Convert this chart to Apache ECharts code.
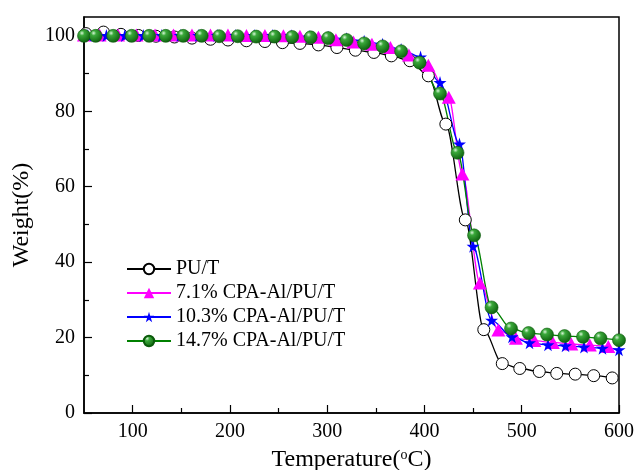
<!DOCTYPE html>
<html>
<head>
<meta charset="utf-8">
<script src="https://cdn.jsdelivr.net/npm/echarts@6/dist/echarts.min.js"></script>
<style>
  html, body { margin: 0; padding: 0; background: #fff; }
  #main { width: 636px; height: 470px; }
</style>
</head>
<body>
<div id="main"></div>
<script>
// 数据：温度与失重
var tempPU = [52, 70, 88, 106, 124, 143, 161, 180, 198, 217, 236, 254, 272, 291, 310, 329, 348, 366, 385, 404, 422, 442, 461, 480, 498, 518, 536, 555, 574, 593]
var weightPU = [100.6, 101.0, 100.4, 100.1, 99.9, 99.7, 99.4, 99.1, 98.9, 98.7, 98.5, 98.2, 98.0, 97.6, 96.9, 96.2, 95.6, 94.7, 93.4, 89.4, 76.6, 51.2, 22.1, 13.1, 11.8, 11.0, 10.5, 10.3, 9.9, 9.3]

var temp71 = [50, 66, 85, 104, 123, 142, 161, 180, 198, 217, 236, 255, 272, 291, 309, 327, 346, 365, 384, 404, 425, 439, 457, 476, 494, 513, 532, 551, 570, 589]
var weight71 = [100.2, 100.2, 100.2, 100.2, 100.2, 100.2, 100.2, 100.2, 100.2, 100.1, 100.1, 100.0, 99.9, 99.6, 99.0, 98.4, 97.8, 96.9, 94.9, 92.2, 83.7, 63.4, 34.5, 22.0, 19.8, 19.2, 18.7, 18.3, 18.0, 17.6]

var temp103 = [54, 73, 92, 111, 130, 149, 168, 187, 206, 225, 244, 263, 282, 301, 320, 338, 357, 376, 396, 416, 436, 450, 469, 490, 508, 527, 545, 564, 583, 600]
var weight103 = [100.1, 100.1, 100.1, 100.1, 100.1, 100.1, 100.1, 100.1, 100.1, 100.1, 100.1, 100.0, 99.8, 99.6, 99.2, 98.6, 97.8, 96.4, 94.4, 87.6, 71.3, 44.2, 24.6, 20.2, 18.6, 18.1, 17.8, 17.5, 17.2, 16.8]

var temp147 = [50, 62, 80, 99, 117, 134, 152, 171, 189, 208, 227, 246, 264, 283, 301, 320, 338, 357, 376, 395, 416, 434, 451, 469, 489, 507, 526, 544, 563, 581, 600]
var weight147 = [100.0, 100.0, 100.0, 100.0, 100.0, 100.0, 100.0, 100.0, 99.9, 99.9, 99.8, 99.8, 99.7, 99.6, 99.4, 98.9, 98.0, 97.2, 95.9, 92.9, 84.7, 69.0, 47.1, 28.0, 22.4, 21.2, 20.8, 20.4, 20.2, 19.8, 19.3]

var seriesNames = ['PU/T', '7.1% CPA-Al/PU/T', '10.3% CPA-Al/PU/T', '14.7% CPA-Al/PU/T']
var xLabelTicks = [100, 200, 300, 400, 500, 600]
var xMinorTicks = [150, 250, 350, 450, 550]
var yLabelTicks = [0, 20, 40, 60, 80, 100]
var yMinorTicks = [10, 30, 50, 70, 90]

function pairs (xs, ys) {
  return xs.map(function (x, i) { return [x, ys[i]] })
}

var FONT = '"Liberation Serif", "Times New Roman", serif'
var starPath = 'path://M50,0 L61,35 L98,35 L68,57 L79,91 L50,70 L21,91 L32,57 L2,35 L39,35 Z'

var chart = echarts.init(document.getElementById('main'))

var baseX = {
  type: 'value',
  min: 50,
  max: 600,
  position: 'bottom',
  splitLine: { show: false }
}
var baseY = {
  type: 'value',
  min: 0,
  max: 105,
  position: 'left',
  splitLine: { show: false }
}

var option = {
  animation: false,
  backgroundColor: '#fff',
  grid: {
    left: 84,
    right: 17,
    top: 17,
    bottom: 57,
    outerBoundsMode: 'none',
    show: true,
    borderColor: '#000',
    borderWidth: 1.5,
    backgroundColor: 'transparent'
  },
  legend: {
    orient: 'vertical',
    left: 121,
    top: 254,
    itemWidth: 44,
    itemHeight: 13,
    itemGap: 4,
    data: seriesNames,
    textStyle: { fontFamily: FONT, fontSize: 20, color: '#000' }
  },
  xAxis: [
    Object.assign({}, baseX, {
      name: 'Temperature({sup|o}C)',
      nameLocation: 'middle',
      nameGap: 35,
      nameTextStyle: {
        fontFamily: FONT, fontSize: 24, color: '#000',
        rich: { sup: { fontFamily: FONT, fontSize: 14, verticalAlign: 'top', padding: [0, 0, 10, 0], color: '#000' } }
      },
      axisLine: { show: true, lineStyle: { color: '#000', width: 1.5 } },
      axisTick: { show: true, inside: true, length: 8, lineStyle: { color: '#000', width: 1.2 }, customValues: xLabelTicks },
      axisLabel: { show: true, margin: 9, fontFamily: FONT, fontSize: 20, color: '#000', customValues: xLabelTicks }
    }),
    Object.assign({}, baseX, {
      axisLine: { show: false },
      axisTick: { show: true, inside: true, length: 5, lineStyle: { color: '#000', width: 1.2 }, customValues: xMinorTicks },
      axisLabel: { show: false }
    })
  ],
  yAxis: [
    Object.assign({}, baseY, {
      name: 'Weight(%)',
      nameLocation: 'middle',
      nameGap: 48,
      nameTextStyle: { fontFamily: FONT, fontSize: 24, color: '#000' },
      axisLine: { show: true, lineStyle: { color: '#000', width: 1.5 } },
      axisTick: { show: true, inside: true, length: 8, lineStyle: { color: '#000', width: 1.2 }, customValues: yLabelTicks },
      axisLabel: { show: true, margin: 9, fontFamily: FONT, fontSize: 20, color: '#000', customValues: yLabelTicks }
    }),
    Object.assign({}, baseY, {
      axisLine: { show: false },
      axisTick: { show: true, inside: true, length: 5, lineStyle: { color: '#000', width: 1.2 }, customValues: yMinorTicks },
      axisLabel: { show: false }
    })
  ],
  series: [
    {
      name: seriesNames[0],
      type: 'line',
      smooth: 0.3,
      smoothMonotone: 'x',
      symbol: 'circle',
      symbolSize: 12,
      lineStyle: { color: '#000', width: 1.3 },
      itemStyle: { color: '#fff', borderColor: '#000', borderWidth: 1 },
      data: pairs(tempPU, weightPU)
    },
    {
      name: seriesNames[1],
      type: 'line',
      smooth: 0.3,
      smoothMonotone: 'x',
      symbol: 'triangle',
      symbolSize: [14, 13],
      lineStyle: { color: '#ff00ff', width: 1.3 },
      itemStyle: { color: '#ff00ff' },
      data: pairs(temp71, weight71)
    },
    {
      name: seriesNames[2],
      type: 'line',
      smooth: 0.3,
      smoothMonotone: 'x',
      symbol: starPath,
      symbolSize: 13,
      lineStyle: { color: '#0000ff', width: 1.3 },
      itemStyle: { color: '#0000ff' },
      data: pairs(temp103, weight103)
    },
    {
      name: seriesNames[3],
      type: 'line',
      smooth: 0.3,
      smoothMonotone: 'x',
      symbol: 'circle',
      symbolSize: 13,
      lineStyle: { color: '#008000', width: 1.3 },
      itemStyle: {
        color: new echarts.graphic.RadialGradient(0.35, 0.3, 0.75, [
          { offset: 0, color: '#d8f5d8' },
          { offset: 0.25, color: '#3aa83a' },
          { offset: 1, color: '#0a5c0a' }
        ]),
        borderColor: '#0a5a0a',
        borderWidth: 0.6
      },
      data: pairs(temp147, weight147)
    }
  ]
}

chart.setOption(option)
</script>
</body>
</html>
